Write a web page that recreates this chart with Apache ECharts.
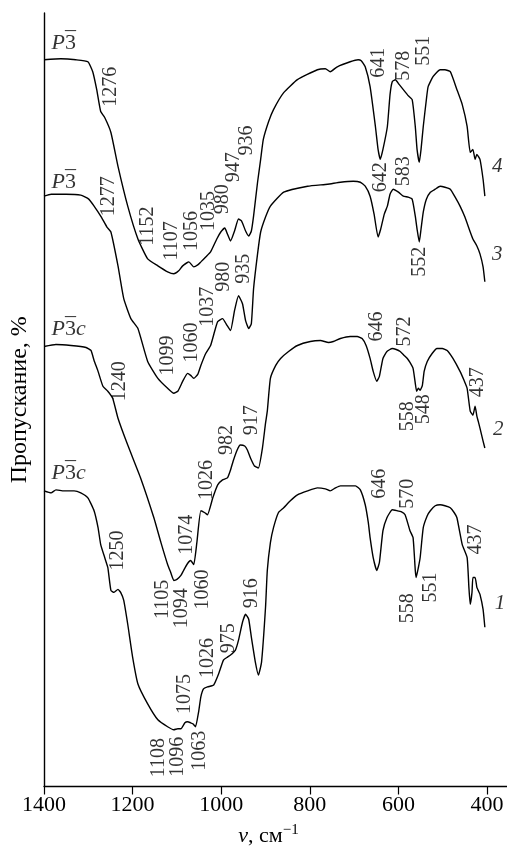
<!DOCTYPE html>
<html><head><meta charset="utf-8">
<script src="https://cdn.jsdelivr.net/npm/echarts@6/dist/echarts.min.js"></script>
<style>html,body{margin:0;padding:0;background:#fff}#c{width:507px;height:852px}</style>
</head><body><div id="c"></div>
<script>
// Wavenumber (cm^-1) / transmittance (arbitrary, offset) for spectra 1..4
const wn4 = [1400,1362,1328,1301,1290,1281,1272,1263,1249,1233,1211,1188,1166,1143,1121,1107,1096,1087,1073,1062,1053,1046,1035,1024,1010,1001,992,986,979,970,961,954,945,938,932,927,918,911,905,893,882,859,828,783,765,754,738,709,691,684,675,664,652,646,641,635,625,619,614,607,598,589,578,569,562,558,553,549,544,537,533,522,506,495,483,468,456,445,438,432,427,423,416,409,405];
const t4  = [730,731,730,728,718,700,678,672,657,623,583,550,530,523,517,515,518,523,527,522,524,527,532,537,550,557,561,555,548,558,570,568,558,553,558,573,607,630,650,668,680,697,710,720,721,718,723,728,730,729,723,703,663,640,630,640,663,695,708,710,705,700,694,690,663,640,627,640,663,690,703,713,720,720,718,700,685,663,637,640,630,635,630,610,593];

const wn3 = [1400,1384,1350,1317,1299,1287,1272,1258,1249,1233,1220,1204,1188,1166,1143,1121,1107,1098,1087,1076,1069,1062,1053,1046,1035,1024,1015,1008,997,988,979,970,961,952,945,938,932,927,918,911,900,889,859,805,760,731,702,686,675,664,655,646,640,632,625,619,612,600,589,578,569,562,558,553,549,544,537,528,517,506,495,483,472,461,450,438,432,423,416,409,405];
const t3  = [593,595,595,594,590,583,573,562,557,523,490,470,460,427,410,400,395,397,407,415,413,410,414,423,435,443,457,467,470,464,458,478,493,485,468,460,465,500,535,557,572,583,597,603,605,607,608,607,603,593,575,552,560,575,583,595,600,597,593,592,590,573,560,547,560,577,590,597,600,603,602,600,592,583,572,557,550,543,535,522,507];

const wn2 = [1400,1373,1339,1305,1294,1287,1278,1267,1256,1245,1233,1211,1182,1152,1136,1121,1114,1107,1100,1091,1085,1076,1069,1062,1055,1046,1037,1031,1019,1008,997,986,979,973,964,957,947,941,934,925,916,907,900,896,889,877,866,848,828,799,776,758,747,731,709,693,682,673,664,657,649,643,635,626,614,605,596,587,580,574,567,562,559,555,551,546,542,535,524,513,501,490,477,461,452,445,438,432,427,423,420,416,409,405];
const t2  = [442,444,443,441,438,428,417,402,397,390,370,343,310,270,245,223,215,207,208,212,217,224,227,223,245,277,275,273,290,303,308,310,318,327,338,343,342,338,330,322,320,340,365,377,410,423,430,437,443,447,448,446,447,450,452,452,450,443,430,417,407,412,430,437,440,439,437,433,430,426,420,405,397,400,398,403,417,427,435,440,440,438,430,417,408,400,377,373,382,372,367,360,347,340];

const wn1 = [1400,1384,1373,1355,1332,1317,1301,1287,1278,1272,1263,1256,1249,1242,1233,1227,1220,1211,1200,1188,1166,1143,1121,1107,1098,1091,1082,1076,1069,1064,1058,1051,1046,1040,1031,1017,1006,995,986,979,968,961,952,945,938,932,923,916,909,900,896,889,882,871,859,844,828,805,783,765,754,742,731,709,697,686,675,668,664,657,649,643,635,626,614,603,594,585,574,567,562,560,555,551,544,535,528,517,506,495,483,474,468,456,445,441,438,434,432,427,423,420,416,409,405];
const t1  = [297,295,298,297,297,295,290,277,260,243,230,220,197,195,198,195,187,163,130,103,83,67,60,57,58,58,64,65,64,63,60,75,90,98,100,102,113,127,130,132,137,147,165,173,168,150,125,112,125,180,217,245,260,275,280,287,293,297,300,299,297,300,302,302,302,298,283,265,250,230,217,225,257,270,278,277,276,273,257,250,217,210,220,230,260,272,277,282,283,282,280,275,270,243,230,200,183,195,210,210,200,197,193,178,160];

// Peak annotations: [text, wavenumber, transmittance]
const peaks4 = [['1276',1249,703],['1152',1166,563],['1107',1112,548],['1056',1067,558],['1035',1028,578],['980',997,590],['947',972,622],['936',943,649],['641',645,727],['578',587,724],['551',544,739]];
const peaks3 = [['1277',1254,593],['1099',1121,433],['1060',1067,446],['1037',1031,482],['980',995,512],['935',950,520],['642',641,612],['583',587,618],['552',553,527]];
const peaks2 = [['1240',1229,407],['1105',1132,188],['1094',1089,179],['1060',1042,198],['1074',1078,253],['1026',1033,308],['982',988,348],['917',932,368],['646',648,462],['572',585,457],['558',580,372],['548',542,379],['437',420,406]];
const peaks1 = [['1250',1233,237],['1108',1141,29],['1096',1098,30],['1063',1049,36],['1075',1082,93],['1026',1031,129],['975',983,149],['916',932,194],['646',643,304],['570',580,294],['437',425,248],['558',578,179],['551',528,200]];

// Curve numbers and space groups: [text, wavenumber, transmittance]
const curveNums = [['4',377,623],['3',377,534],['2',375,359],['1',371,184]];
const groups = [['{i|P}{n|3}',1384,747],['{i|P}{n|3}',1384,607],['{i|P}{n|3}{i|c}',1384,459],['{i|P}{n|3}{i|c}',1384,315]];
const groupBars = [['\u2013',1340,760],['\u2013',1340,620],['\u2013',1340,472],['\u2013',1340,328]];

const xTicks = [400,600,800,1000,1200,1400];

const FONT = 'Liberation Serif';
const zip = (a,b) => a.map((v,i)=>[v,b[i]]);
const lineS = (w,t) => ({type:'line',data:zip(w,t),symbol:'none',smooth:0.15,
  lineStyle:{color:'#000',width:1.4},silent:true,z:2});
const labS = (arr, extra) => ({type:'scatter',symbolSize:1,itemStyle:{color:'rgba(0,0,0,0)'},silent:true,z:5,
  data:arr.map(a=>({value:[a[1],a[2]],name:a[0]})),
  label:Object.assign({show:true,position:'inside',formatter:p=>p.name,color:'#000',fontFamily:FONT,fontSize:20},extra)});

const chart = echarts.init(document.getElementById('c'));
chart.setOption({
  animation:false,
  grid:{left:43,right:0,top:13,bottom:62,containLabel:false},
  xAxis:{type:'value',inverse:true,min:355,max:1400,
    axisLine:{show:true,lineStyle:{color:'#000',width:1.4}},
    axisTick:{show:true,length:8,inside:false,customValues:xTicks,lineStyle:{color:'#000',width:1.2}},
    axisLabel:{show:true,customValues:xTicks,formatter:v=>String(v),color:'#000',fontFamily:FONT,fontSize:22,margin:8},
    splitLine:{show:false},
    name:'{i|\u03bd}{n|, см}{s|\u22121}',nameLocation:'middle',nameGap:36,
    nameTextStyle:{padding:[0,14,0,0],rich:{
      i:{fontFamily:FONT,fontSize:22,fontStyle:'italic',color:'#000'},
      n:{fontFamily:FONT,fontSize:22,color:'#000'},
      s:{fontFamily:FONT,fontSize:15,color:'#000',padding:[0,0,12,0]}}}
  },
  yAxis:{type:'value',min:0,max:777,
    axisLine:{show:true,lineStyle:{color:'#000',width:1.4}},
    axisTick:{show:false},axisLabel:{show:false},splitLine:{show:false},
    name:'Пропускание, %',nameLocation:'middle',nameGap:12,
    nameTextStyle:{fontFamily:FONT,fontSize:24,color:'#000'}
  },
  series:[
    lineS(wn4,t4),lineS(wn3,t3),lineS(wn2,t2),lineS(wn1,t1),
    labS(peaks4,{rotate:90}),labS(peaks3,{rotate:90}),labS(peaks2,{rotate:90}),labS(peaks1,{rotate:90}),
    labS(curveNums,{fontStyle:'italic',fontSize:21}),
    labS(groups,{position:'right',distance:0,rich:{
      i:{fontFamily:FONT,fontSize:22,fontStyle:'italic',color:'#000'},
      n:{fontFamily:FONT,fontSize:22,color:'#000'}}}),
    labS(groupBars,{fontSize:22})
  ]
});
</script></body></html>
